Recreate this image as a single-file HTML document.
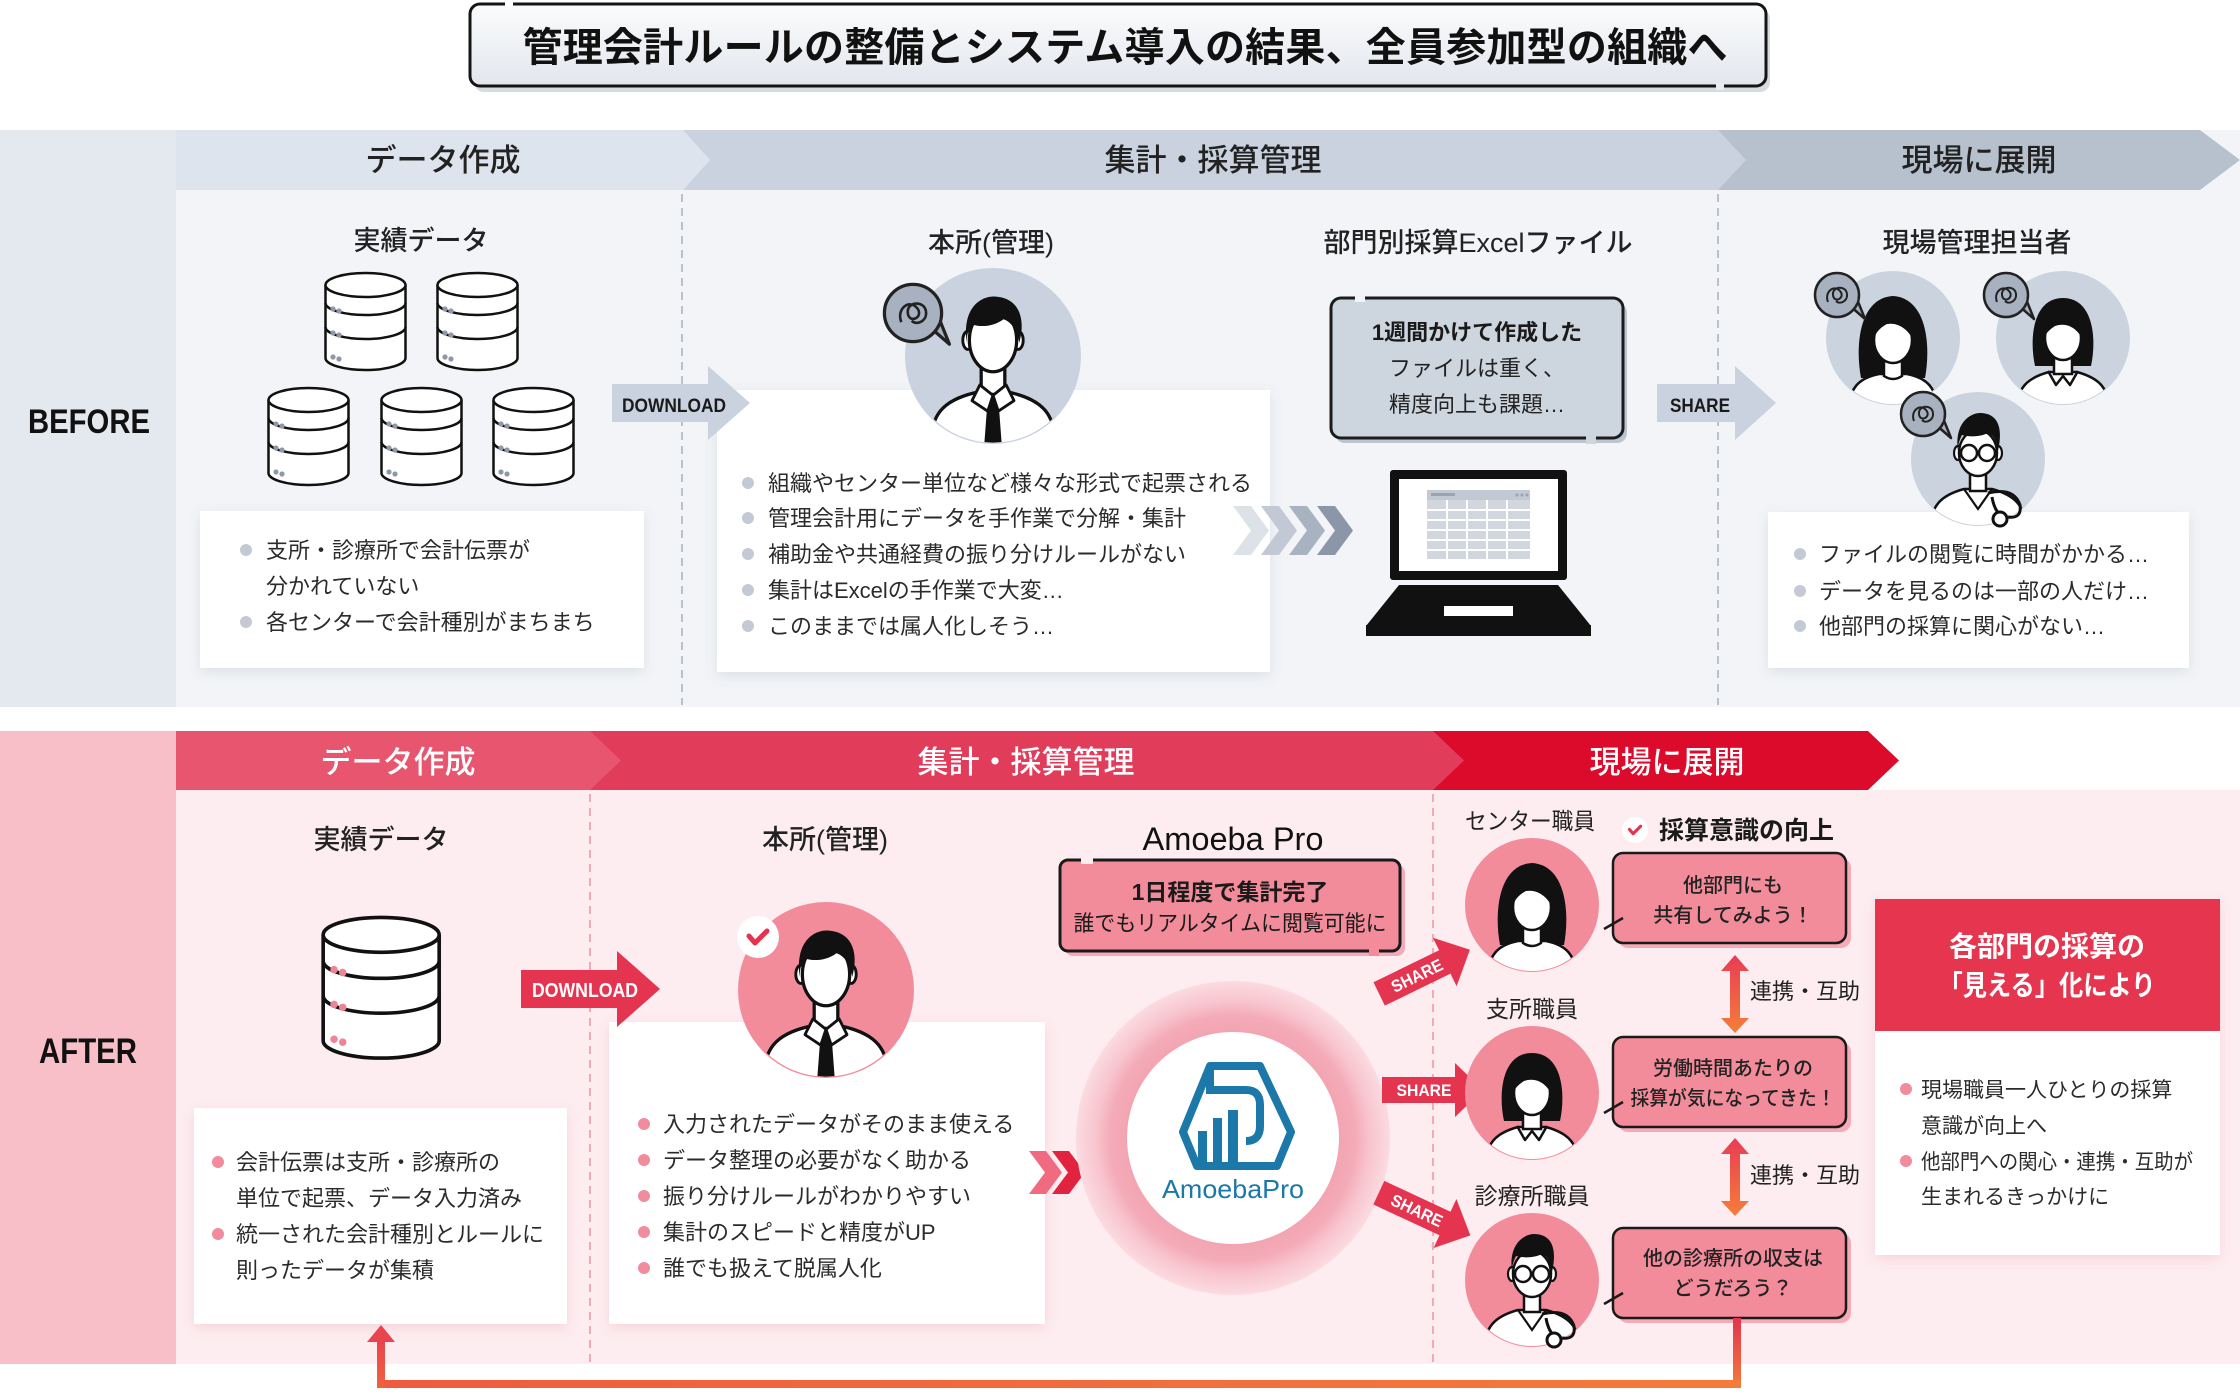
<!DOCTYPE html>
<html lang="ja">
<head>
<meta charset="utf-8">
<title>管理会計ルールの整備とシステム導入の結果、全員参加型の組織へ</title>
<style>
  html,body{margin:0;padding:0;background:#fff;}
  svg{display:block;}
  svg text{font-family:"Liberation Sans","Noto Sans CJK JP",sans-serif;}
  .hd{font-size:31px;font-weight:500;text-anchor:middle;}
  .lb{font-size:27px;font-weight:500;text-anchor:middle;fill:#222;}
  .bd{font-size:22px;fill:#2b2b2b;}
  .sp{font-size:20px;font-weight:500;fill:#222;text-anchor:middle;}
</style>
</head>
<body>
<svg width="2240" height="1396" viewBox="0 0 2240 1396" xmlns="http://www.w3.org/2000/svg">
<defs>
  <linearGradient id="tg" x1="0" y1="0" x2="0" y2="1">
    <stop offset="0" stop-color="#fbfcfd"/>
    <stop offset="1" stop-color="#e2e6ec"/>
  </linearGradient>
  <radialGradient id="halo" cx="0.5" cy="0.5" r="0.5">
    <stop offset="0.6" stop-color="#f29fad"/>
    <stop offset="0.78" stop-color="#f4abb8"/>
    <stop offset="0.87" stop-color="#f8c4cd"/>
    <stop offset="1" stop-color="#fbdbe1"/>
  </radialGradient>
  <linearGradient id="da1" gradientUnits="userSpaceOnUse" x1="0" y1="955" x2="0" y2="1033">
    <stop offset="0" stop-color="#e83c53"/><stop offset="1" stop-color="#f57d3a"/>
  </linearGradient>
  <linearGradient id="da2" gradientUnits="userSpaceOnUse" x1="0" y1="1138" x2="0" y2="1216">
    <stop offset="0" stop-color="#e83c53"/><stop offset="1" stop-color="#f57d3a"/>
  </linearGradient>
  <linearGradient id="orh" x1="0" y1="0" x2="1" y2="0">
    <stop offset="0" stop-color="#ee5c3f"/><stop offset="1" stop-color="#f47b3a"/>
  </linearGradient>
  <linearGradient id="orv" x1="0" y1="0" x2="0" y2="1">
    <stop offset="0" stop-color="#e2344f"/><stop offset="1" stop-color="#f47a3a"/>
  </linearGradient>
  <linearGradient id="orl" x1="0" y1="0" x2="0" y2="1">
    <stop offset="0" stop-color="#e8454e"/><stop offset="1" stop-color="#f0623e"/>
  </linearGradient>
  <filter id="sh" x="-10%" y="-10%" width="120%" height="130%">
    <feDropShadow dx="0" dy="4" stdDeviation="6" flood-color="#6b7a90" flood-opacity="0.16"/>
  </filter>
  <filter id="shp" x="-10%" y="-10%" width="120%" height="130%">
    <feDropShadow dx="0" dy="4" stdDeviation="6" flood-color="#d9637a" flood-opacity="0.18"/>
  </filter>
  <clipPath id="cu"><circle cx="0" cy="0" r="66"/></clipPath>

  <!-- cylinder (83x99) -->
  <g id="cyl">
    <path d="M1.5,13 V86 A40,12 0 0 0 81.5,86 V13" fill="#fff" stroke="#111" stroke-width="2.5"/>
    <ellipse cx="41.5" cy="13" rx="40" ry="12" fill="#fff" stroke="#111" stroke-width="2.5"/>
    <path d="M1.5,31 A40,12 0 0 0 81.5,31 M1.5,55 A40,12 0 0 0 81.5,55" fill="none" stroke="#111" stroke-width="2.5"/>
    <circle cx="9" cy="37" r="2.6"/><circle cx="15" cy="39" r="2.6"/>
    <circle cx="9" cy="61" r="2.6"/><circle cx="15" cy="63" r="2.6"/>
    <circle cx="9" cy="85" r="2.6"/><circle cx="15" cy="87" r="2.6"/>
  </g>

  <!-- woman long hair -->
  <g id="pW1">
    <g clip-path="url(#cu)">
      <path d="M-32,40 C-38,8 -34,-40 0,-42 C34,-40 38,8 32,40 Z" fill="#111"/>
      <path d="M-44,72 C-44,50 -34,40 -14,36 L14,36 C34,40 44,50 44,72 Z" fill="#fff" stroke="#111" stroke-width="2.5"/>
      <path d="M-9,20 L-9,38 Q0,44 9,38 L9,20 Z" fill="#fff" stroke="#111" stroke-width="2.5"/>
      <ellipse cx="0" cy="2" rx="19" ry="23" fill="#fff" stroke="#111" stroke-width="2.5"/>
      <path d="M-21,4 C-24,-22 -8,-29 4,-27 C18,-25 24,-12 21,4 C16,-8 6,-16 -6,-14 C-14,-10 -18,-4 -21,4 Z" fill="#111"/>
    </g>
  </g>
  <!-- woman short hair with collar -->
  <g id="pW2">
    <g clip-path="url(#cu)">
      <path d="M-28,28 C-34,0 -30,-40 0,-40 C30,-40 34,0 28,28 Z" fill="#111"/>
      <path d="M-46,72 C-46,50 -36,40 -14,34 L14,34 C36,40 46,50 46,72 Z" fill="#fff" stroke="#111" stroke-width="2.5"/>
      <path d="M-9,16 L-9,36 L9,36 L9,16 Z" fill="#fff" stroke="#111" stroke-width="2.5"/>
      <path d="M-15,33 L-7,47 L0,38 L7,47 L15,33" fill="none" stroke="#111" stroke-width="2.5" stroke-linejoin="round"/>
      <ellipse cx="0" cy="0" rx="18" ry="22" fill="#fff" stroke="#111" stroke-width="2.5"/>
      <path d="M-20,2 C-22,-22 -6,-28 4,-26 C16,-24 22,-12 20,2 C14,-10 4,-16 -8,-12 C-14,-8 -18,-4 -20,2 Z" fill="#111"/>
    </g>
  </g>
  <!-- man with tie -->
  <g id="pM">
    <g clip-path="url(#cu)">
      <path d="M-48,72 C-48,44 -38,34 -14,28 L14,28 C38,34 48,44 48,72 Z" fill="#fff" stroke="#111" stroke-width="2.5"/>
      <rect x="-9" y="2" width="18" height="28" fill="#fff" stroke="#111" stroke-width="2.5"/>
      <path d="M-4,32 L4,32 L7,72 L-7,72 Z" fill="#111"/>
      <path d="M-5,28 L5,28 L4,35 L-4,35 Z" fill="#111"/>
      <path d="M-10,22 L-16,34 L-4,42 L0,30 Z" fill="#fff" stroke="#111" stroke-width="2.2" stroke-linejoin="round"/>
      <path d="M10,22 L16,34 L4,42 L0,30 Z" fill="#fff" stroke="#111" stroke-width="2.2" stroke-linejoin="round"/>
      <ellipse cx="-19" cy="-12" rx="4" ry="7" fill="#fff" stroke="#111" stroke-width="2.2"/>
      <ellipse cx="19" cy="-12" rx="4" ry="7" fill="#fff" stroke="#111" stroke-width="2.2"/>
      <ellipse cx="0" cy="-12" rx="18" ry="24" fill="#fff" stroke="#111" stroke-width="2.5"/>
      <path d="M-20,-10 C-24,-40 -6,-47 4,-45 C20,-43 25,-28 20,-10 C18,-20 14,-26 8,-28 C0,-22 -10,-22 -16,-24 C-19,-20 -20,-16 -20,-10 Z" fill="#111"/>
    </g>
  </g>
  <!-- doctor -->
  <g id="pD">
    <g clip-path="url(#cu)">
      <path d="M-48,72 C-48,46 -36,36 -14,30 L14,30 C36,36 48,46 48,72 Z" fill="#fff" stroke="#111" stroke-width="2.5"/>
      <path d="M-14,30 L0,50 L14,30" fill="none" stroke="#111" stroke-width="2.2"/>
      <rect x="-8" y="10" width="16" height="22" fill="#fff" stroke="#111" stroke-width="2.5"/>
      <ellipse cx="-20" cy="-6" rx="4" ry="7" fill="#fff" stroke="#111" stroke-width="2.2"/>
      <ellipse cx="20" cy="-6" rx="4" ry="7" fill="#fff" stroke="#111" stroke-width="2.2"/>
      <ellipse cx="0" cy="-6" rx="19" ry="23" fill="#fff" stroke="#111" stroke-width="2.5"/>
      <path d="M-20,-8 C-24,-38 -6,-46 2,-46 C18,-46 26,-34 20,-8 C18,-18 16,-24 10,-26 C2,-22 -8,-22 -16,-24 C-19,-18 -20,-14 -20,-8 Z" fill="#111"/>
      <circle cx="-9" cy="-6" r="8" fill="#fff" stroke="#111" stroke-width="2.5"/>
      <circle cx="9" cy="-6" r="8" fill="#fff" stroke="#111" stroke-width="2.5"/>
      <path d="M-1,-6 L1,-6" stroke="#111" stroke-width="2.5"/>
    </g>
    <path d="M10,34 Q36,28 42,46 Q44,60 30,58" fill="none" stroke="#111" stroke-width="3"/>
    <path d="M14,38 Q16,50 22,56" fill="none" stroke="#111" stroke-width="3"/>
    <circle cx="22" cy="60" r="7" fill="#fff" stroke="#111" stroke-width="3"/>
  </g>
  <!-- grey speech bubble with scribble -->
  <g id="bub">
    <path d="M12,10 L28,24 L20,4 Z" fill="#a7b1bf" stroke="#222" stroke-width="2.5" stroke-linejoin="round"/>
    <circle cx="0" cy="0" r="22" fill="#a7b1bf" stroke="#222" stroke-width="2.5"/>
    <path d="M16,5 L20,6" stroke="#a7b1bf" stroke-width="4"/>
    <path d="M-9,7 C-13,-3 -3,-11 3,-4 C9,3 -3,9 -4,0 C-5,-9 9,-10 10,-1 C11,6 3,10 -1,6" fill="none" stroke="#222" stroke-width="2"/>
  </g>
  <!-- check -->
  <g id="chk">
    <circle cx="0" cy="0" r="21" fill="#fff"/>
    <path d="M-9,-1 L-3,6 L9,-6" fill="none" stroke="#e2344f" stroke-width="5" stroke-linecap="round" stroke-linejoin="round"/>
  </g>
  <!-- red share arrow centered -->
  <g id="shr">
    <polygon points="-41,-13 32,-13 32,-27 60,0 32,27 32,13 -41,13" fill="#e4344f"/>
    <text x="1" y="6" font-size="17" font-weight="700" fill="#fff" text-anchor="middle" textLength="55" lengthAdjust="spacingAndGlyphs">SHARE</text>
  </g>
</defs>

<rect x="0" y="0" width="2240" height="1396" fill="#fff"/>

<!-- ================= TITLE ================= -->
<rect x="474" y="9" width="1296" height="83" rx="10" fill="#d6dbe2"/>
<rect x="470" y="4" width="1296" height="82" rx="10" fill="url(#tg)" stroke="#151515" stroke-width="3"/>
<rect x="505" y="0" width="8" height="7" fill="#fff"/>
<rect x="1716" y="83" width="8" height="7" fill="#e8ebef"/>
<text x="1125" y="61" font-size="40" font-weight="700" fill="#111" text-anchor="middle" textLength="1205" lengthAdjust="spacing">管理会計ルールの整備とシステム導入の結果、全員参加型の組織へ</text>

<!-- ================= BEFORE ================= -->
<rect x="0" y="130" width="176" height="577" fill="#e4e9f0"/>
<rect x="176" y="130" width="2064" height="577" fill="#f2f4f7"/>
<polygon points="1718,130 2200,130 2240,160 2200,190 1718,190" fill="#b7c1ce"/>
<polygon points="683,130 1718,130 1746,160 1718,190 683,190" fill="#c9d2de"/>
<polygon points="176,130 683,130 710,160 683,190 176,190" fill="#dde4ed"/>
<text x="443" y="171" class="hd" fill="#222">データ作成</text>
<text x="1213" y="171" class="hd" fill="#222">集計・採算管理</text>
<text x="1979" y="171" class="hd" fill="#222">現場に展開</text>

<text x="89" y="433" font-size="34" font-weight="700" fill="#111" text-anchor="middle" textLength="122" lengthAdjust="spacingAndGlyphs">BEFORE</text>

<line x1="682" y1="194" x2="682" y2="705" stroke="#b9c1cc" stroke-width="2" stroke-dasharray="8 6"/>
<line x1="1718" y1="194" x2="1718" y2="705" stroke="#b9c1cc" stroke-width="2" stroke-dasharray="8 6"/>

<!-- col 1 -->
<text x="421" y="250" class="lb">実績データ</text>
<use href="#cyl" x="324" y="272" fill="#8e98a8"/>
<use href="#cyl" x="436" y="272" fill="#8e98a8"/>
<use href="#cyl" x="267" y="387" fill="#8e98a8"/>
<use href="#cyl" x="380" y="387" fill="#8e98a8"/>
<use href="#cyl" x="492" y="387" fill="#8e98a8"/>
<rect x="200" y="511" width="444" height="157" fill="#fff" filter="url(#sh)"/>
<circle cx="246" cy="550" r="6" fill="#c3cad4"/>
<text x="266" y="558" class="bd">支所・診療所で会計伝票が</text>
<text x="266" y="594" class="bd">分かれていない</text>
<circle cx="246" cy="622" r="6" fill="#c3cad4"/>
<text x="266" y="630" class="bd">各センターで会計種別がまちまち</text>

<!-- col 2 -->
<text x="991" y="252" class="lb">本所(管理)</text>
<rect x="717" y="390" width="553" height="282" fill="#fff" filter="url(#sh)"/>
<polygon points="612,384 708,384 708,366 750,403 708,440 708,422 612,422" fill="#c9d2de"/>
<text x="674" y="412" font-size="19" font-weight="700" fill="#1a1a1a" text-anchor="middle" textLength="104" lengthAdjust="spacingAndGlyphs">DOWNLOAD</text>
<circle cx="993" cy="356" r="88" fill="#c9d2de"/>
<use href="#pM" transform="translate(993,356) scale(1.313)"/>
<use href="#bub" transform="translate(913,313) scale(1.3)"/>
<circle cx="748" cy="483" r="6" fill="#c3cad4"/>
<text x="768" y="491" class="bd">組織やセンター単位など様々な形式で起票される</text>
<circle cx="748" cy="518" r="6" fill="#c3cad4"/>
<text x="768" y="526" class="bd">管理会計用にデータを手作業で分解・集計</text>
<circle cx="748" cy="554" r="6" fill="#c3cad4"/>
<text x="768" y="562" class="bd">補助金や共通経費の振り分けルールがない</text>
<circle cx="748" cy="590" r="6" fill="#c3cad4"/>
<text x="768" y="598" class="bd">集計はExcelの手作業で大変…</text>
<circle cx="748" cy="626" r="6" fill="#c3cad4"/>
<text x="768" y="634" class="bd">このままでは属人化しそう…</text>

<!-- chevrons -->
<polygon points="1233,506 1251,506 1269,530.5 1251,555 1233,555 1251,530.5" fill="#dde2e9"/>
<polygon points="1261,506 1279,506 1297,530.5 1279,555 1261,555 1279,530.5" fill="#c2c9d4"/>
<polygon points="1289,506 1307,506 1325,530.5 1307,555 1289,555 1307,530.5" fill="#a8b2c0"/>
<polygon points="1317,506 1335,506 1353,530.5 1335,555 1317,555 1335,530.5" fill="#8b97a8"/>

<text x="1478" y="252" class="lb">部門別採算Excelファイル</text>
<rect x="1335" y="303" width="292" height="140" rx="10" fill="#bcc4cf"/>
<rect x="1331" y="298" width="292" height="140" rx="10" fill="#cdd5df" stroke="#1c1c1c" stroke-width="3"/>
<rect x="1355" y="294" width="10" height="8" fill="#f2f4f7"/>
<rect x="1586" y="434" width="10" height="10" fill="#cdd5df"/>
<text x="1477" y="340" font-size="22" font-weight="700" fill="#1a1a1a" text-anchor="middle">1週間かけて作成した</text>
<text x="1477" y="376" font-size="22" fill="#222" text-anchor="middle">ファイルは重く、</text>
<text x="1477" y="412" font-size="22" fill="#222" text-anchor="middle">精度向上も課題…</text>

<!-- laptop -->
<rect x="1390" y="470" width="177" height="110" rx="3" fill="#111"/>
<rect x="1399" y="479" width="159" height="92" fill="#fff"/>
<rect x="1427" y="490" width="103" height="69" fill="#d2d7df"/>
<rect x="1427" y="490" width="103" height="10" fill="#c3c9d2"/>
<rect x="1431" y="493" width="24" height="3" fill="#9aa3b0"/>
<circle cx="1517" cy="495" r="1.5" fill="#9aa3b0"/><circle cx="1522" cy="495" r="1.5" fill="#9aa3b0"/><circle cx="1527" cy="495" r="1.5" fill="#9aa3b0"/>
<g stroke="#fff" stroke-width="2">
  <line x1="1447" y1="500" x2="1447" y2="559"/><line x1="1467" y1="500" x2="1467" y2="559"/>
  <line x1="1487" y1="500" x2="1487" y2="559"/><line x1="1507" y1="500" x2="1507" y2="559"/>
  <line x1="1427" y1="510" x2="1530" y2="510"/><line x1="1427" y1="520" x2="1530" y2="520"/>
  <line x1="1427" y1="530" x2="1530" y2="530"/><line x1="1427" y1="540" x2="1530" y2="540"/>
  <line x1="1427" y1="550" x2="1530" y2="550"/>
</g>
<polygon points="1399,585 1558,585 1591,626 1366,626" fill="#111"/>
<rect x="1366" y="625" width="225" height="11" fill="#111"/>
<rect x="1444" y="606" width="69" height="10" fill="#fff"/>

<polygon points="1657,384 1735,384 1735,366 1776,403 1735,440 1735,422 1657,422" fill="#c9d2de"/>
<text x="1700" y="412" font-size="19" font-weight="700" fill="#1a1a1a" text-anchor="middle" textLength="60" lengthAdjust="spacingAndGlyphs">SHARE</text>

<!-- col 3 -->
<text x="1977" y="252" class="lb">現場管理担当者</text>
<rect x="1768" y="512" width="421" height="156" fill="#fff" filter="url(#sh)"/>
<circle cx="1893" cy="338" r="67" fill="#cbd3de"/>
<circle cx="2063" cy="338" r="67" fill="#cbd3de"/>
<use href="#pW1" transform="translate(1893,338)"/>
<use href="#pW2" transform="translate(2063,338)"/>
<circle cx="1978" cy="459" r="67" fill="#cbd3de"/>
<use href="#pD" transform="translate(1978,459)"/>
<use href="#bub" transform="translate(1837,295)"/>
<use href="#bub" transform="translate(2006,295)"/>
<use href="#bub" transform="translate(1923,414)"/>
<circle cx="1800" cy="554" r="6" fill="#c3cad4"/>
<text x="1819" y="562" class="bd">ファイルの閲覧に時間がかかる…</text>
<circle cx="1800" cy="591" r="6" fill="#c3cad4"/>
<text x="1819" y="599" class="bd">データを見るのは一部の人だけ…</text>
<circle cx="1800" cy="626" r="6" fill="#c3cad4"/>
<text x="1819" y="634" class="bd">他部門の採算に関心がない…</text>

<!-- ================= AFTER ================= -->
<rect x="0" y="731" width="176" height="633" fill="#f8bfc9"/>
<rect x="176" y="790" width="2064" height="574" fill="#fdedf0"/>
<polygon points="1433,731 1868,731 1899,760.5 1868,790 1433,790" fill="#dc0a2b"/>
<polygon points="590,731 1433,731 1464,760.5 1433,790 590,790" fill="#e23c5b"/>
<polygon points="176,731 590,731 621,760.5 590,790 176,790" fill="#e8556f"/>
<text x="398" y="773" class="hd" fill="#fff">データ作成</text>
<text x="1026" y="773" class="hd" fill="#fff">集計・採算管理</text>
<text x="1667" y="773" class="hd" fill="#fff">現場に展開</text>

<text x="88" y="1063" font-size="35" font-weight="700" fill="#111" text-anchor="middle" textLength="98" lengthAdjust="spacingAndGlyphs">AFTER</text>

<line x1="590" y1="794" x2="590" y2="1362" stroke="#f4a9b6" stroke-width="2" stroke-dasharray="8 6"/>
<line x1="1433" y1="794" x2="1433" y2="1362" stroke="#f4a9b6" stroke-width="2" stroke-dasharray="8 6"/>

<!-- col 1 -->
<text x="381" y="849" class="lb">実績データ</text>
<use href="#cyl" transform="translate(321,916) scale(1.45)" fill="#f08497"/>
<rect x="194" y="1108" width="373" height="216" fill="#fff" filter="url(#shp)"/>
<circle cx="218" cy="1162" r="6" fill="#f08c9c"/>
<text x="236" y="1170" class="bd">会計伝票は支所・診療所の</text>
<text x="236" y="1206" class="bd">単位で起票、データ入力済み</text>
<circle cx="218" cy="1234" r="6" fill="#f08c9c"/>
<text x="236" y="1242" class="bd">統一された会計種別とルールに</text>
<text x="236" y="1278" class="bd">則ったデータが集積</text>

<!-- col 2 -->
<text x="825" y="849" class="lb">本所(管理)</text>
<rect x="609" y="1022" width="436" height="302" fill="#fff" filter="url(#shp)"/>
<polygon points="521,970 617,970 617,951 660,989 617,1027 617,1008 521,1008" fill="#e4344f"/>
<text x="585" y="997" font-size="20" font-weight="700" fill="#fff" text-anchor="middle" textLength="106" lengthAdjust="spacingAndGlyphs">DOWNLOAD</text>
<circle cx="826" cy="990" r="88" fill="#f28c9b"/>
<use href="#pM" transform="translate(826,990) scale(1.313)"/>
<use href="#chk" transform="translate(758,937)"/>
<circle cx="644" cy="1124" r="6" fill="#f08c9c"/>
<text x="663" y="1132" class="bd">入力されたデータがそのまま使える</text>
<circle cx="644" cy="1160" r="6" fill="#f08c9c"/>
<text x="663" y="1168" class="bd">データ整理の必要がなく助かる</text>
<circle cx="644" cy="1196" r="6" fill="#f08c9c"/>
<text x="663" y="1204" class="bd">振り分けルールがわかりやすい</text>
<circle cx="644" cy="1232" r="6" fill="#f08c9c"/>
<text x="663" y="1240" class="bd">集計のスピードと精度がUP</text>
<circle cx="644" cy="1268" r="6" fill="#f08c9c"/>
<text x="663" y="1276" class="bd">誰でも扱えて脱属人化</text>

<!-- red chevrons -->
<polygon points="1029,1151 1046,1151 1062,1172.5 1046,1194 1029,1194 1045,1172.5" fill="#f06a80"/>
<polygon points="1052,1151 1069,1151 1085,1172.5 1069,1194 1052,1194 1068,1172.5" fill="#e2233f"/>

<!-- Amoeba Pro -->
<text x="1233" y="850" font-size="32" fill="#111" text-anchor="middle" textLength="181" lengthAdjust="spacingAndGlyphs">Amoeba Pro</text>
<rect x="1065" y="865" width="340" height="91" rx="8" fill="#f5aab7"/>
<rect x="1060" y="860" width="340" height="91" rx="8" fill="#f28c9b" stroke="#1a1a1a" stroke-width="3"/>
<rect x="1081" y="855" width="12" height="9" fill="#fdedf0"/>
<rect x="1369" y="947" width="10" height="9" fill="#f28c9b"/>
<text x="1230" y="900" font-size="23" font-weight="700" fill="#1a1a1a" text-anchor="middle">1日程度で集計完了</text>
<text x="1230" y="931" font-size="22" fill="#1a1a1a" text-anchor="middle" textLength="313" lengthAdjust="spacingAndGlyphs">誰でもリアルタイムに閲覧可能に</text>

<circle cx="1233" cy="1138" r="157" fill="url(#halo)"/>
<circle cx="1233" cy="1138" r="106" fill="#fff"/>
<!-- logo -->
<polygon points="1210,1066 1260,1066 1291,1132 1277,1166 1197,1166 1183,1132" fill="none" stroke="#1b78a8" stroke-width="8" stroke-linejoin="round"/>
<path d="M1210,1066 L1210,1090 L1246,1090 Q1260,1090 1260,1105 L1260,1126 Q1260,1141 1246,1141" fill="none" stroke="#1b78a8" stroke-width="8"/>
<rect x="1198" y="1131" width="9" height="33" fill="#1b78a8"/>
<rect x="1213" y="1118" width="9" height="46" fill="#1b78a8"/>
<rect x="1228" y="1110" width="10" height="54" fill="#1b78a8"/>
<text x="1233" y="1198" font-size="26" fill="#1b78a8" text-anchor="middle" textLength="142" lengthAdjust="spacingAndGlyphs">AmoebaPro</text>

<!-- share arrows -->
<use href="#shr" transform="translate(1416,976) rotate(-26)"/>
<use href="#shr" transform="translate(1423,1090)"/>
<use href="#shr" transform="translate(1416,1210) rotate(25)"/>

<!-- col 3 -->
<text x="1530" y="829" font-size="23" fill="#222" text-anchor="middle" textLength="130" lengthAdjust="spacingAndGlyphs">センター職員</text>
<text x="1532" y="1017" font-size="23" fill="#222" text-anchor="middle">支所職員</text>
<text x="1532" y="1204" font-size="23" fill="#222" text-anchor="middle">診療所職員</text>
<circle cx="1532" cy="905" r="67" fill="#f28c9b"/>
<use href="#pW1" transform="translate(1532,905)"/>
<circle cx="1532" cy="1093" r="67" fill="#f28c9b"/>
<use href="#pW2" transform="translate(1532,1093)"/>
<circle cx="1532" cy="1280" r="67" fill="#f28c9b"/>
<use href="#pD" transform="translate(1532,1280)"/>

<use href="#chk" transform="translate(1635,830) scale(0.62)"/>
<text x="1659" y="839" font-size="25" font-weight="700" fill="#1a1a1a">採算意識の向上</text>

<!-- speech boxes -->
<rect x="1618" y="858" width="233" height="90" rx="10" fill="#f5aab6"/>
<rect x="1613" y="853" width="233" height="90" rx="10" fill="#f28c9b" stroke="#1a1a1a" stroke-width="2.5"/>
<line x1="1604" y1="929" x2="1623" y2="918" stroke="#1a1a1a" stroke-width="2.5"/>
<text x="1733" y="892" class="sp">他部門にも</text>
<text x="1733" y="922" class="sp">共有してみよう！</text>

<rect x="1618" y="1042" width="233" height="90" rx="10" fill="#f5aab6"/>
<rect x="1613" y="1037" width="233" height="90" rx="10" fill="#f28c9b" stroke="#1a1a1a" stroke-width="2.5"/>
<line x1="1604" y1="1113" x2="1623" y2="1102" stroke="#1a1a1a" stroke-width="2.5"/>
<text x="1733" y="1075" class="sp">労働時間あたりの</text>
<text x="1733" y="1105" class="sp" textLength="205" lengthAdjust="spacingAndGlyphs">採算が気になってきた！</text>

<rect x="1618" y="1233" width="233" height="90" rx="10" fill="#f5aab6"/>
<rect x="1613" y="1228" width="233" height="90" rx="10" fill="#f28c9b" stroke="#1a1a1a" stroke-width="2.5"/>
<line x1="1604" y1="1304" x2="1623" y2="1293" stroke="#1a1a1a" stroke-width="2.5"/>
<text x="1733" y="1265" class="sp">他の診療所の収支は</text>
<text x="1733" y="1295" class="sp">どうだろう？</text>

<!-- double arrows -->
<rect x="1730" y="968" width="10" height="52" fill="url(#da1)"/>
<polygon points="1721,971 1749,971 1735,955" fill="url(#da1)"/>
<polygon points="1721,1018 1749,1018 1735,1033" fill="url(#da1)"/>
<text x="1750" y="999" font-size="22" fill="#222">連携・互助</text>
<rect x="1730" y="1151" width="10" height="52" fill="url(#da2)"/>
<polygon points="1721,1154 1749,1154 1735,1138" fill="url(#da2)"/>
<polygon points="1721,1201 1749,1201 1735,1216" fill="url(#da2)"/>
<text x="1750" y="1183" font-size="22" fill="#222">連携・互助</text>

<!-- right summary box -->
<g filter="url(#shp)">
  <rect x="1875" y="899" width="345" height="132" fill="#e5344f"/>
  <rect x="1875" y="1031" width="345" height="224" fill="#fff"/>
</g>
<text x="2047" y="956" font-size="28" font-weight="700" fill="#fff" text-anchor="middle">各部門の採算の</text>
<text x="2047" y="995" font-size="28" font-weight="700" fill="#fff" text-anchor="middle" textLength="217" lengthAdjust="spacingAndGlyphs">「見える」化により</text>
<circle cx="1906" cy="1089" r="6" fill="#f08c9c"/>
<text x="1921" y="1097" font-size="21" fill="#2b2b2b">現場職員一人ひとりの採算</text>
<text x="1921" y="1133" font-size="21" fill="#2b2b2b">意識が向上へ</text>
<circle cx="1906" cy="1161" r="6" fill="#f08c9c"/>
<text x="1921" y="1169" font-size="21" fill="#2b2b2b" textLength="272" lengthAdjust="spacingAndGlyphs">他部門への関心・連携・互助が</text>
<text x="1921" y="1204" font-size="21" fill="#2b2b2b">生まれるきっかけに</text>

<!-- feedback connector -->
<rect x="1733" y="1318" width="8" height="70" fill="url(#orv)"/>
<rect x="377" y="1380" width="1364" height="8" fill="url(#orh)"/>
<rect x="377" y="1340" width="8" height="48" fill="url(#orl)"/>
<polygon points="367,1342 395,1342 381,1325" fill="#e8454e"/>
</svg>
</body>
</html>
